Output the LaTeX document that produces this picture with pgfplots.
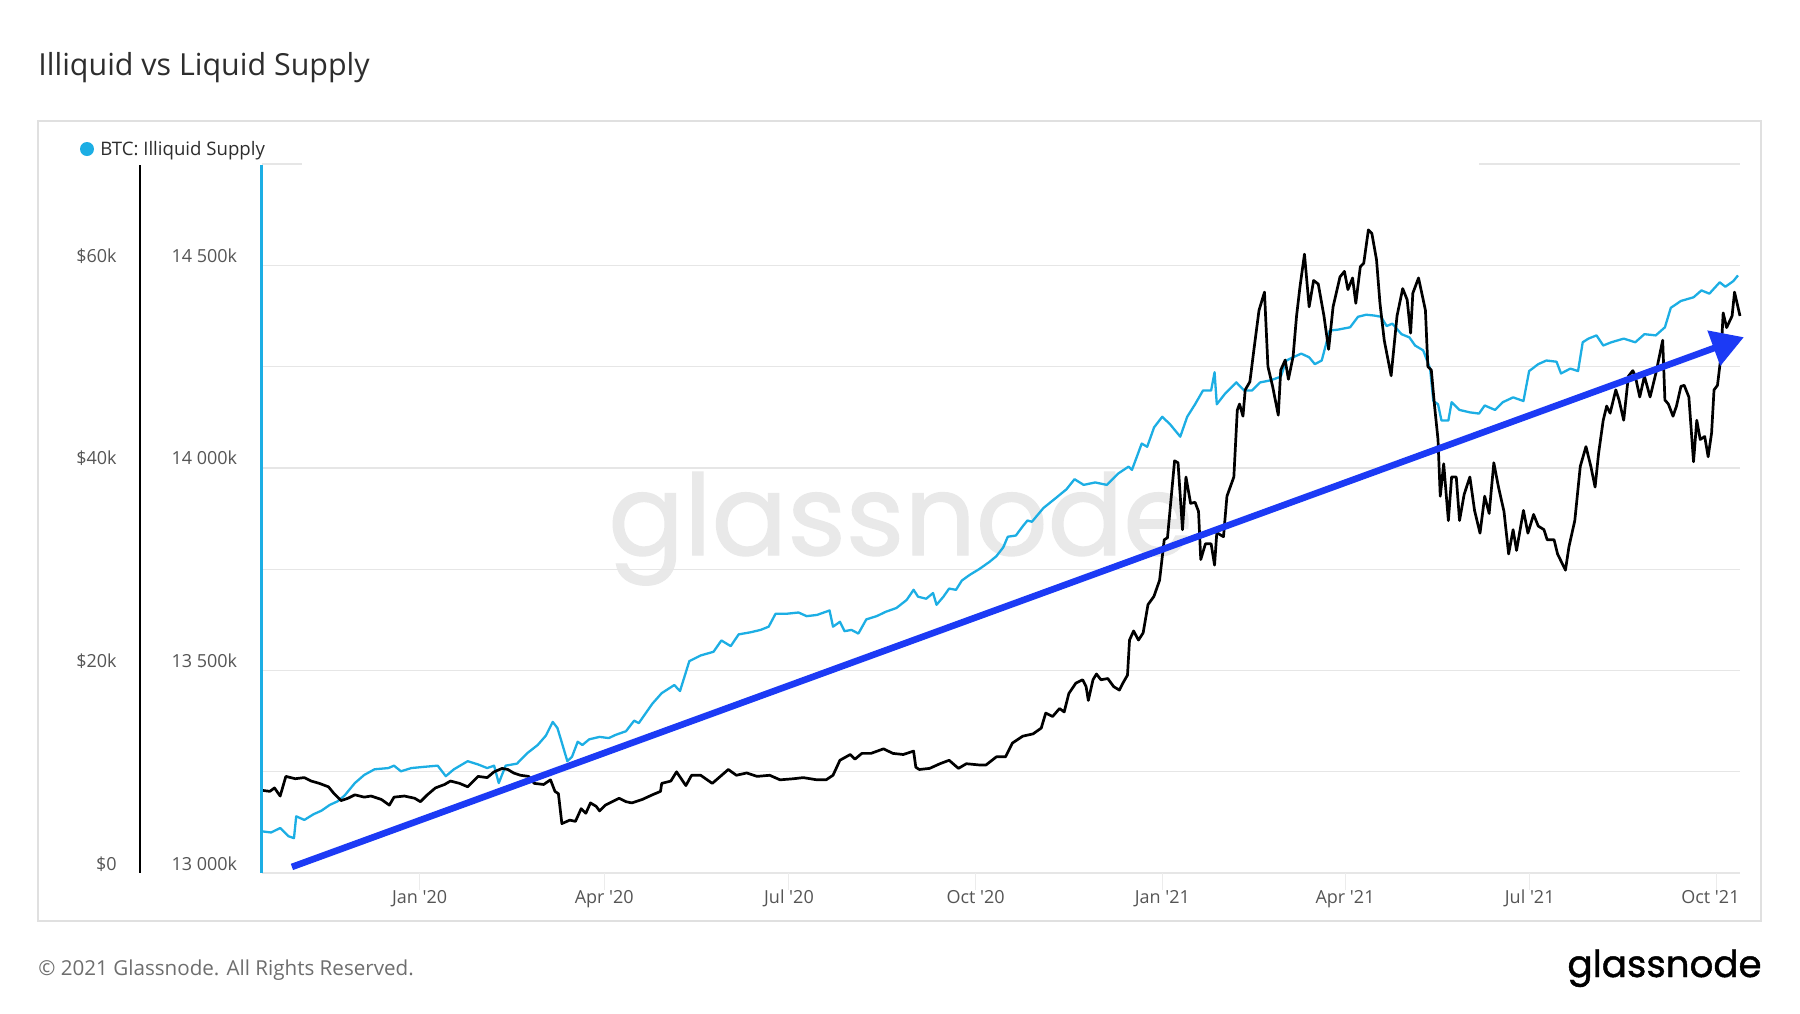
\documentclass[border=0pt]{standalone}
\usepackage{pgfplots}
\pgfplotsset{compat=1.18}
\usepackage{pgfplotstable}
\usepackage{fontspec}
\setmainfont{Open Sans}
\newfontfamily\logofont{Poppins}[FakeBold=1.2]
\usetikzlibrary{arrows.meta}

\definecolor{supplyc}{RGB}{28,174,228}
\definecolor{trendc}{RGB}{28,58,245}
\definecolor{gridc}{RGB}{230,230,230}
\definecolor{boxc}{RGB}{224,224,224}
\definecolor{tickc}{RGB}{85,85,85}
\definecolor{titlec}{RGB}{45,45,45}
\definecolor{footc}{RGB}{110,110,110}
\definecolor{wmc}{RGB}{233,233,233}
\definecolor{xtickc}{RGB}{236,236,236}

% day 0 = 1 Jan 2020 ; supply in thousands of BTC
\pgfplotstableread{
day supply
-77.9 13103
-73.2 13100
-68.7 13111
-64.7 13091
-61.9 13086
-60.8 13140
-56.8 13131
-52.3 13145
-48.3 13154
-44.3 13168
-40.4 13177
-37.0 13191
-31.9 13222
-27.3 13242
-22.2 13256
-15.4 13259
-12.6 13265
-9.2 13251
-4.1 13259
2.1 13262
8.9 13265
12.9 13239
16.9 13256
23.7 13276
28.8 13268
33.3 13259
36.7 13265
39.0 13222
42.4 13265
48.0 13270
53.1 13296
58.2 13316
62.2 13339
65.6 13373
67.9 13358
69.6 13330
72.8 13276
75.1 13287
77.9 13324
80.2 13316
83.6 13330
88.7 13336
93.2 13333
96.6 13341
101.7 13350
105.7 13376
108.0 13370
114.7 13418
119.3 13444
125.5 13464
128.3 13449
132.9 13523
138.5 13537
144.8 13546
148.7 13574
153.3 13560
157.2 13589
162.9 13594
168.0 13600
172.0 13608
175.4 13640
181.0 13640
186.7 13643
190.7 13634
195.8 13637
202.0 13648
203.7 13608
207.1 13620
209.4 13597
212.8 13600
216.2 13591
220.1 13626
225.2 13634
229.8 13645
234.9 13654
240.0 13674
243.4 13699
245.6 13682
249.6 13677
253.0 13691
254.7 13662
258.1 13682
260.9 13702
264.3 13699
267.2 13722
271.1 13736
275.7 13750
280.8 13768
284.2 13782
287.6 13804
289.8 13830
293.8 13833
297.2 13856
299.5 13870
301.7 13867
307.4 13901
313.1 13924
318.7 13947
322.7 13972
327.2 13958
332.9 13964
338.6 13958
344.2 13986
349.3 14003
351.0 13995
355.8 14060
358.5 14052
361.9 14100
365.9 14126
369.7 14108
374.8 14077
378.2 14126
382.1 14157
386.0 14191
390.0 14191
391.7 14236
392.8 14157
396.7 14182
402.4 14211
406.3 14191
410.2 14191
414.2 14211
419.2 14216
424.3 14225
427.1 14265
430.4 14273
434.4 14282
438.3 14273
441.1 14256
444.5 14265
448.4 14339
452.3 14341
458.5 14347
462.4 14373
466.4 14378
470.3 14376
473.7 14373
476.5 14350
479.3 14356
483.8 14330
487.7 14322
490.5 14302
494.5 14290
497.9 14245
499.5 14165
501.8 14157
503.5 14117
506.9 14117
508.5 14162
512.4 14143
517.5 14137
522.0 14134
524.8 14154
529.9 14143
533.7 14162
538.8 14174
543.9 14165
546.7 14239
551.2 14256
555.2 14265
560.2 14262
562.4 14233
567.0 14245
570.8 14239
573.1 14310
575.9 14319
579.9 14327
583.2 14302
587.2 14310
593.3 14319
599.0 14310
603.5 14330
609.1 14327
613.6 14347
616.5 14395
621.5 14412
627.7 14421
631.6 14438
635.5 14430
640.6 14458
643.4 14447
647.3 14461
649.6 14475
}\supplytable

% BTC price in thousands of USD
\pgfplotstableread{
day price
-77.9 8.17
-73.8 8.06
-71.5 8.40
-68.7 7.60
-65.9 9.54
-61.3 9.31
-56.8 9.42
-53.4 9.08
-49.4 8.85
-44.9 8.51
-42.1 7.83
-38.7 7.15
-35.3 7.38
-31.9 7.72
-27.3 7.49
-23.9 7.60
-18.8 7.26
-14.9 6.70
-12.6 7.49
-7.5 7.60
-2.4 7.38
0.4 7.04
3.8 7.72
7.8 8.40
12.3 8.74
15.2 9.08
19.7 8.85
23.7 8.51
28.8 9.54
33.3 9.42
36.7 9.99
40.7 10.33
43.5 10.22
46.3 9.88
49.7 9.65
53.7 9.54
56.5 8.85
61.1 8.74
64.5 9.20
66.7 8.06
68.4 7.83
70.1 4.88
74.0 5.22
76.8 5.10
79.6 6.35
81.9 5.90
84.2 6.92
87.0 6.58
88.7 6.13
91.5 6.70
98.3 7.38
101.7 7.04
104.6 6.92
109.7 7.26
114.7 7.72
118.7 8.06
119.3 8.85
123.8 9.08
126.6 9.99
131.2 8.63
134.0 9.65
138.5 9.65
144.2 8.85
148.2 9.54
152.1 10.22
156.1 9.65
161.2 9.88
166.3 9.54
172.5 9.65
177.6 9.20
184.4 9.31
189.0 9.42
195.8 9.20
200.3 9.20
203.7 9.65
207.1 11.13
212.2 11.70
214.5 11.24
217.9 11.81
222.4 11.81
228.6 12.26
233.2 11.81
238.3 11.70
243.4 12.04
244.5 10.45
246.2 10.22
251.3 10.33
256.4 10.79
260.9 11.13
265.5 10.33
269.4 10.79
275.7 10.67
279.1 10.67
284.2 11.47
288.7 11.47
292.1 12.83
297.2 13.51
302.3 13.74
306.3 14.31
308.5 15.79
311.9 15.45
315.3 16.24
317.6 15.90
319.9 17.72
323.3 18.74
326.7 19.08
328.4 18.40
329.5 17.04
331.8 19.08
333.5 19.65
335.7 19.08
339.1 19.20
342.0 18.40
344.8 18.06
346.5 18.74
348.8 19.54
349.8 23.0
351.8 23.9
354.2 23.0
356.5 23.7
358.9 26.5
361.8 27.3
364.6 28.9
366.9 32.9
368.5 33.1
372.0 40.7
373.7 40.5
375.9 33.9
377.6 39.1
379.9 36.5
382.1 36.6
383.8 35.7
384.9 30.95
387.2 32.5
390.0 32.5
391.7 30.4
392.8 33.6
396.1 33.2
397.8 37.2
401.2 39.1
402.9 45.7
404.0 46.3
405.7 45.1
406.8 47.7
409.1 48.5
411.3 52.0
413.6 55.55
416.3 57.35
418.0 50.0
420.3 48.05
423.1 45.2
424.3 49.65
426.5 50.65
428.1 48.75
430.4 51.0
432.1 55.0
433.8 57.9
436.0 61.1
438.3 55.9
440.5 58.5
442.8 58.15
445.6 55.0
447.9 51.7
450.1 55.9
453.5 58.85
455.7 59.4
457.4 57.6
459.7 58.75
461.3 56.25
463.5 59.85
465.2 60.2
467.5 63.5
469.2 63.15
471.5 60.55
473.2 56.25
475.3 52.6
478.7 49.1
481.6 55.0
484.4 57.7
486.6 56.6
488.3 53.3
489.4 57.25
492.2 58.75
494.5 56.6
495.6 55.55
496.8 50.0
498.5 49.65
500.1 46.1
501.8 42.8
502.9 37.2
504.6 40.4
506.9 34.8
508.5 39.1
510.8 39.1
512.4 34.8
514.7 37.4
517.5 39.1
519.8 35.8
522.5 33.55
524.8 37.2
527.0 35.5
529.3 40.5
531.6 38.1
534.3 35.7
536.6 31.5
538.8 33.9
540.5 31.85
543.9 35.8
546.1 33.55
548.9 35.4
551.2 34.25
554.0 33.9
555.6 32.9
559.0 32.9
560.7 31.5
564.6 29.9
566.3 32.2
569.2 34.8
571.9 40.15
574.7 42.1
577.1 40.15
579.2 38.1
580.9 41.4
583.2 44.7
584.9 46.1
586.6 45.4
589.4 47.7
591.0 46.7
593.3 44.7
595.6 49.05
597.8 49.6
599.0 49.05
601.2 47.0
603.5 49.05
606.3 47.0
609.1 49.3
612.5 52.6
613.6 46.7
615.3 46.3
617.6 45.1
619.3 46.1
621.5 48.05
623.1 48.15
625.4 47.0
627.7 40.6
629.3 44.7
631.0 42.8
633.2 43.1
634.9 41.1
636.6 43.45
637.8 47.7
639.5 48.15
641.2 51.0
642.3 55.3
644.0 53.85
646.7 55.0
647.9 57.35
650.6 55.0
}\pricetable

\begin{document}
\begin{tikzpicture}
\fill[white] (0pt,0pt) rectangle (900pt,-506.5pt);
\begin{scope}[x=0.5pt,y=-0.5pt]
  \draw[boxc, line width=0.75pt] (38,121) rectangle (1761,921);
  \node[anchor=base west, inner sep=0pt, text=titlec, font=\fontsize{15.2}{18}\selectfont] at (38,75) {Illiquid vs Liquid Supply};
  \fill[supplyc] (87,149) circle (3.5pt);
  \node[anchor=base west, inner sep=0pt, text=titlec, font=\fontsize{9.3}{11}\selectfont] at (100,155) {BTC: Illiquid Supply};
  \node[anchor=base west, inner sep=0pt, text=wmc, font=\logofont\fontsize{56}{60}\selectfont] at (608,555) {glassnode};
  \node[anchor=base west, inner sep=0pt, text=footc, font=\fontsize{10.3}{12}\selectfont] at (38,975.5) {\textcopyright{} 2021 Glassnode. All Rights Reserved.};
  \node[anchor=base east, inner sep=0pt, text=black, font=\logofont\fontsize{18.6}{22}\selectfont] at (1762,977) {glassnode};
\end{scope}

\begin{axis}[
  at={(130.75pt,-436.5pt)}, anchor=south west,
  scale only axis, width=739.25pt, height=354.5pt,
  xmin=-77.9, xmax=650.6, ymin=13000, ymax=14750,
  axis line style={draw=none},
  clip=false,
  scaled y ticks=false, scaled x ticks=false,
  ytick={13000,13250,13500,13750,14000,14250,14500},
  yticklabels={13 000k,,13 500k,,14 000k,,14 500k},
  ymajorgrids, grid style={gridc, line width=0.65pt},
  tick style={draw=none},
  xtick={0,91,182,274,366,456,547,639},
  xticklabels={Jan \textquotesingle20,Apr \textquotesingle20,Jul \textquotesingle20,Oct \textquotesingle20,Jan \textquotesingle21,Apr \textquotesingle21,Jul \textquotesingle21,\kern-6pt Oct \textquotesingle21},
  ticklabel style={font=\fontsize{9}{11}\selectfont, text=tickc},
  yticklabel style={anchor=base east, inner sep=0pt, xshift=-12pt, yshift=1.5pt},
  xticklabel style={anchor=base, inner sep=0pt, yshift=-15.15pt},
]
  \draw[gridc, line width=0.65pt] (axis cs:-77.9,14750) -- (axis cs:-57.9,14750);
  \draw[gridc, line width=0.65pt] (axis cs:522,14750) -- (axis cs:650.6,14750);
  \foreach \t in {0,91,182,274,366,456,547,639} {
    \edef\temp{\noexpand\draw[xtickc, line width=0.5pt] (axis cs:\t,13000) -- ++(0pt,-8.5pt);}\temp
  }
  \addplot[supplyc, line width=1.15pt, line join=round] table[x=day, y=supply] {\supplytable};
\end{axis}

\begin{axis}[
  at={(130.75pt,-436.5pt)}, anchor=south west,
  scale only axis, width=739.25pt, height=354.5pt,
  xmin=-77.9, xmax=650.6, ymin=0, ymax=70,
  axis line style={draw=none},
  clip=false,
  scaled y ticks=false,
  xtick=\empty,
  ytick={0,20,40,60},
  yticklabels={\$0,\$20k,\$40k,\$60k},
  tick style={draw=none},
  ticklabel style={font=\fontsize{9}{11}\selectfont, text=tickc},
  yticklabel style={anchor=base east, inner sep=0pt, xshift=-72.25pt, yshift=1.5pt},
]
  \addplot[black, line width=1.35pt, line join=round] table[x=day, y=price] {\pricetable};
  \addplot[trendc, line width=3.3pt, -{Triangle[length=16pt,width=18pt]}] coordinates {(-62.9,0.6) (652.5,52.9)};
\end{axis}

\begin{scope}[x=0.5pt,y=-0.5pt]
  \draw[black, line width=1.15pt] (140,165) -- (140,873);
  \draw[supplyc, line width=1.15pt] (261.5,165) -- (261.5,873);
\end{scope}
\end{tikzpicture}
\end{document}
